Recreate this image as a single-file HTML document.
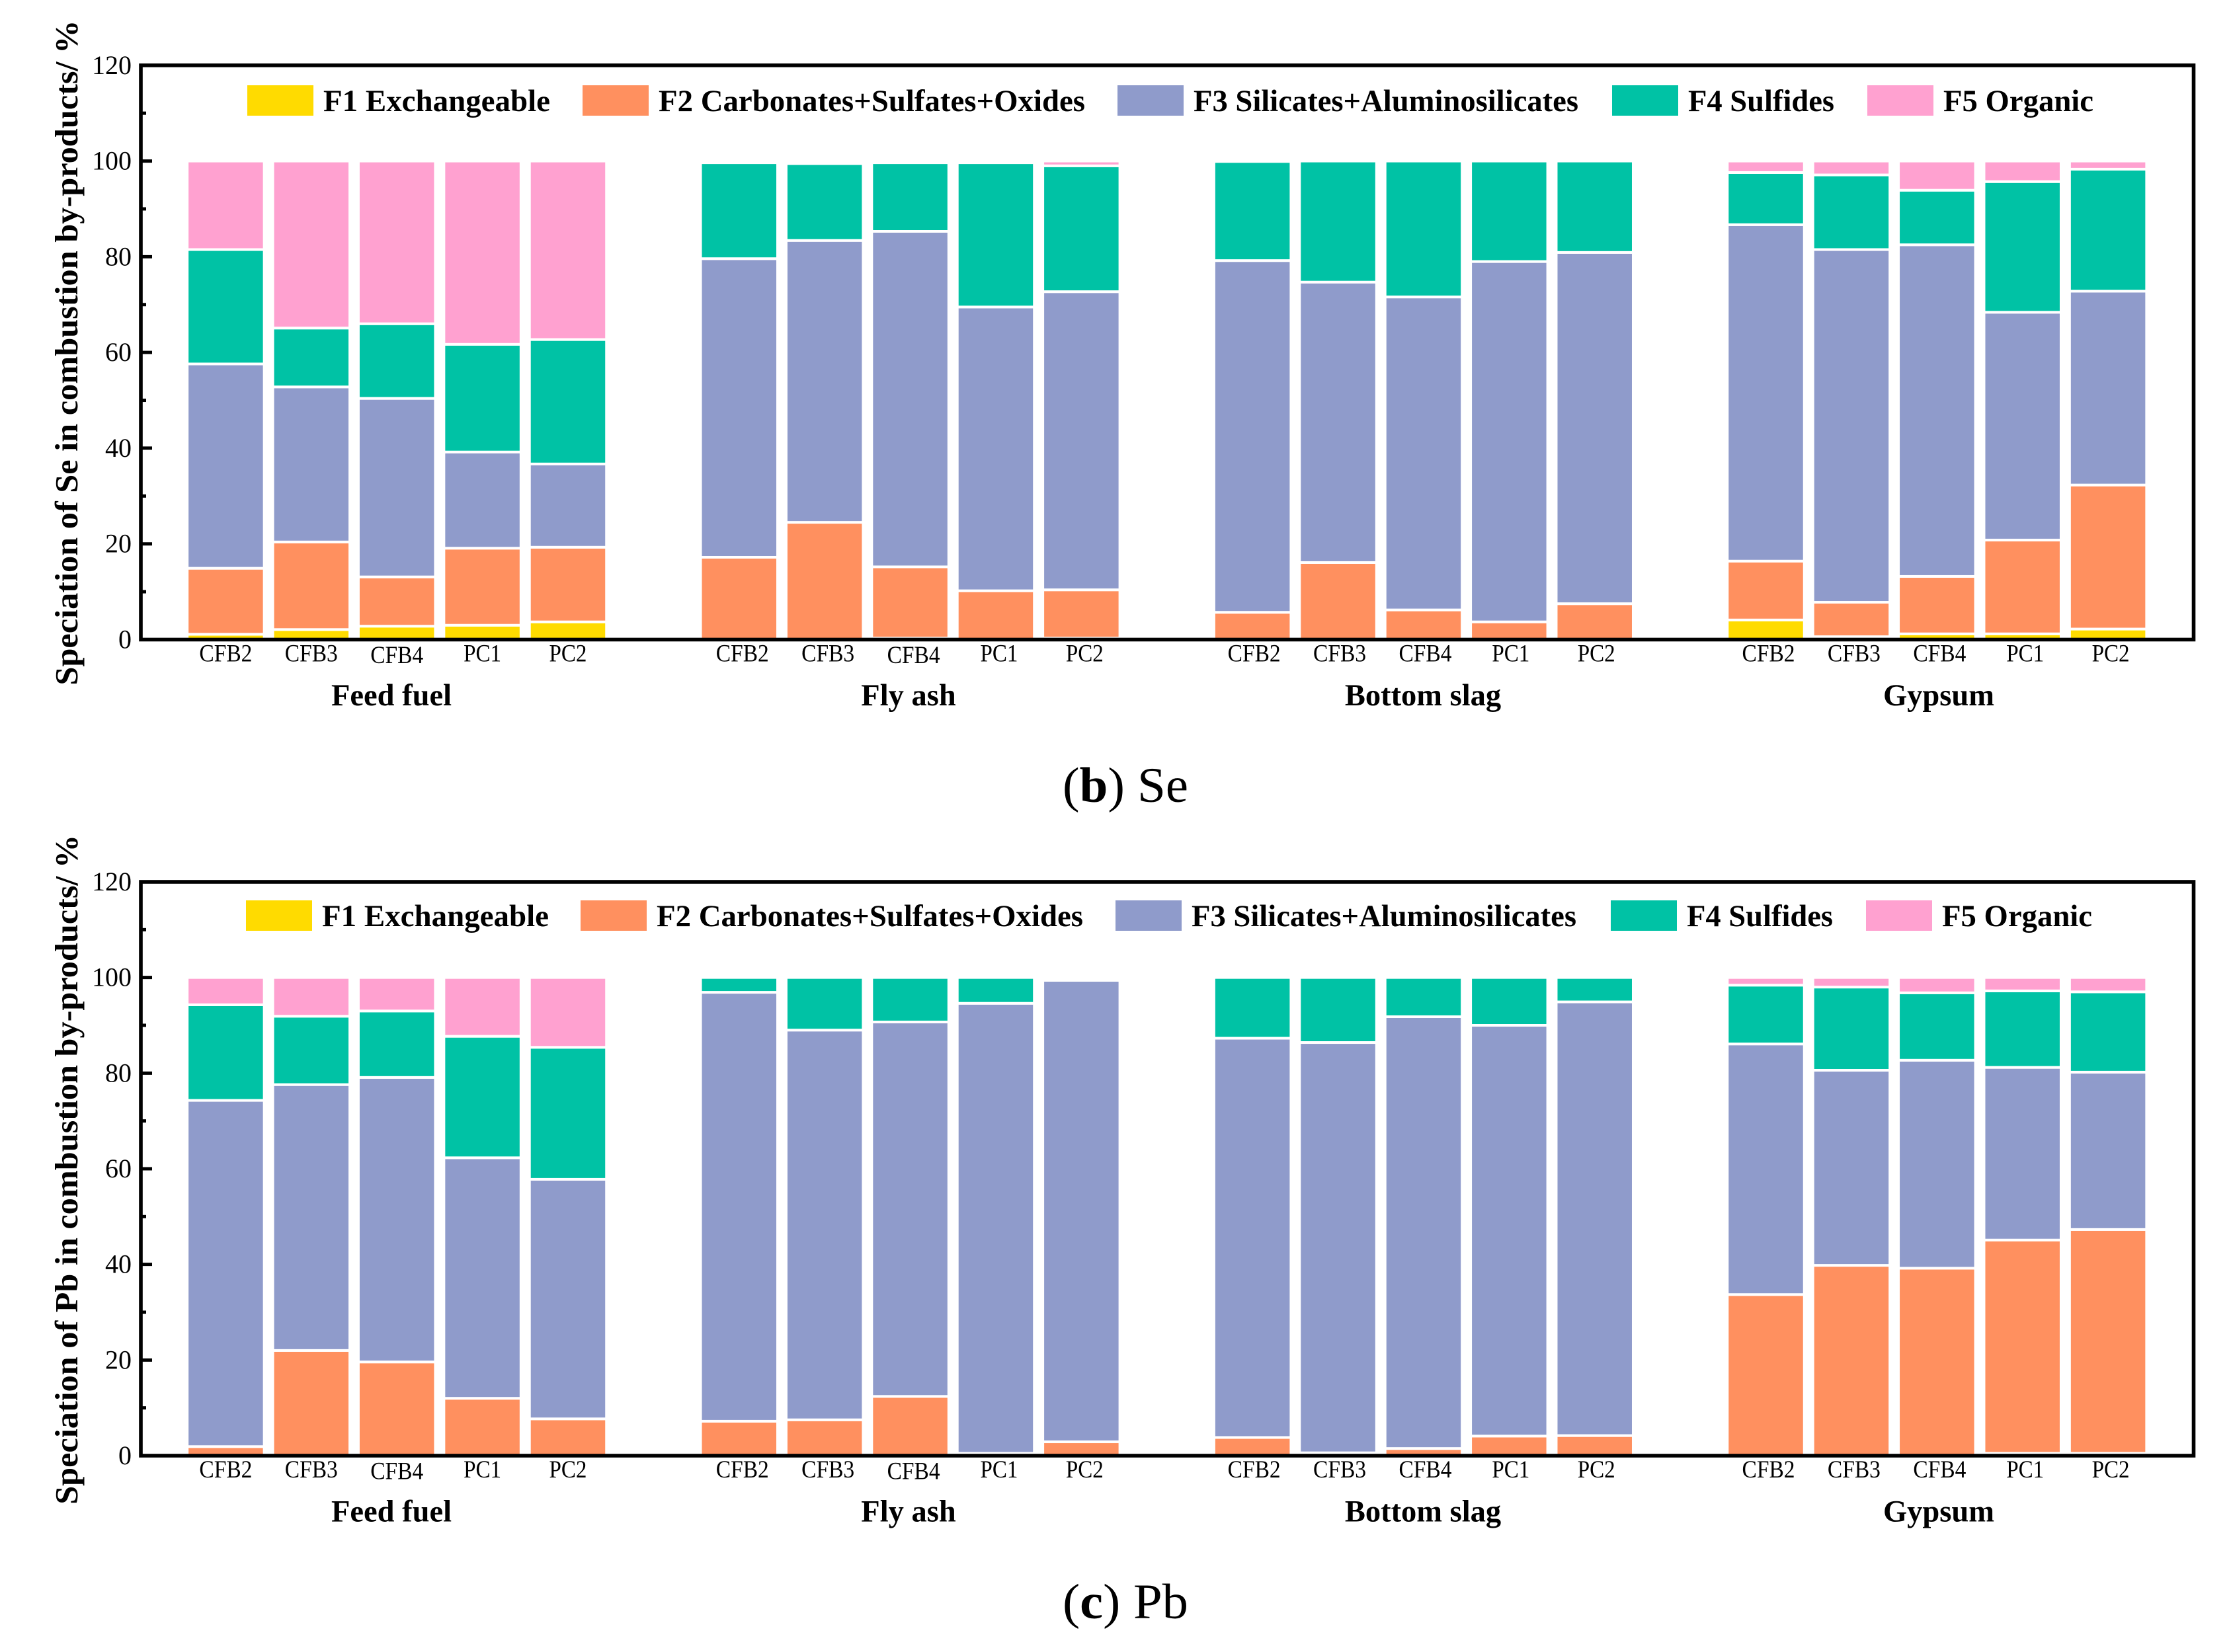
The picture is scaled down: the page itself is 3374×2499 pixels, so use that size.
<!DOCTYPE html>
<html lang="en">
<head>
<meta charset="utf-8">
<title>Speciation of Se and Pb in combustion by-products</title>
<style>
html,body{margin:0;padding:0;background:#fff;}
svg{display:block;}
text{font-family:"Liberation Serif",serif;fill:#000;}
</style>
</head>
<body>
<svg id="figure" xmlns="http://www.w3.org/2000/svg" width="3374" height="2499" viewBox="0 0 3374 2499">
<rect x="0" y="0" width="3374" height="2499" fill="#ffffff"/>
</svg>
<script>
// Categories and tick labels
const groupNames = ["Feed fuel", "Fly ash", "Bottom slag", "Gypsum"];
const siteNames = ["CFB2", "CFB3", "CFB4", "PC1", "PC2"];
const seriesNames = ["F1 Exchangeable", "F2 Carbonates+Sulfates+Oxides", "F3 Silicates+Aluminosilicates", "F4 Sulfides", "F5 Organic"];
const seriesColors = ["#ffdb00", "#ff905f", "#8f9bcb", "#00c2a5", "#ffa1d0"];
const majorTicks = [0, 20, 40, 60, 80, 100, 120];
const minorTicks = [10, 30, 50, 70, 90, 110];

// Se values: Feed fuel x5, Fly ash x5, Bottom slag x5, Gypsum x5
const seF1 = [1.1, 2.1, 2.8, 3.0, 3.7,   0, 0, 0.3, 0, 0.3,   0, 0, 0, 0, 0,   4.1, 0.6, 1.2, 1.2, 2.2];
const seF2 = [13.8, 18.3, 10.3, 16.1, 15.6,   17.2, 24.5, 14.9, 10.2, 10.1,   5.7, 16.1, 6.2, 3.7, 7.5,   12.3, 7.2, 12.0, 19.6, 30.1];
const seF3 = [42.7, 32.4, 37.3, 20.1, 17.4,   62.4, 58.9, 70.1, 59.3, 62.3,   73.5, 58.6, 65.4, 75.3, 73.4,   70.3, 73.7, 69.3, 47.6, 40.5];
const seF4 = [23.9, 12.3, 15.6, 22.5, 26.0,   20.05, 16.05, 14.35, 30.15, 26.3,   20.7, 25.3, 28.4, 21.0, 19.1,   10.9, 15.6, 11.4, 27.3, 25.5];
const seF5 = [18.5, 34.9, 34.0, 38.3, 37.3,   0, 0, 0, 0, 1.0,   0, 0, 0, 0, 0,   2.4, 2.9, 6.1, 4.3, 1.7];

// Pb values: same ordering
const pbF1 = [0, 0, 0, 0, 0,   0, 0, 0, 0, 0,   0, 0, 0, 0, 0,   0, 0, 0, 0.5, 0.5];
const pbF2 = [1.9, 22.0, 19.6, 12.0, 7.7,   7.2, 7.5, 12.4, 0.5, 2.9,   3.8, 0.6, 1.5, 4.1, 4.2,   33.7, 39.8, 39.2, 44.6, 46.8];
const pbF3 = [72.4, 55.6, 59.5, 50.3, 50.1,   89.7, 81.5, 78.3, 94.1, 96.5,   83.5, 85.8, 90.3, 85.9, 90.7,   52.4, 40.8, 43.5, 36.1, 32.9];
const pbF4 = [20.0, 14.3, 13.9, 25.4, 27.6,   3.1, 11.0, 9.3, 5.4, 0,   12.7, 13.6, 8.2, 10.0, 5.1,   12.3, 17.4, 14.1, 16.0, 16.8];
const pbF5 = [5.7, 8.1, 7.0, 12.3, 14.6,   0, 0, 0, 0, 0,   0, 0, 0, 0, 0,   1.6, 2.0, 3.2, 2.8, 3.0];

const NS = "http://www.w3.org/2000/svg";
const figure = document.getElementById("figure");

function mk(tag, parent, attrs) {
  const el = document.createElementNS(NS, tag);
  for (const k in attrs) el.setAttribute(k, attrs[k]);
  parent.appendChild(el);
  return el;
}

const X_LEFT = 212;
const X_RIGHT = 3317.5;
const xScale = function (i) { return X_LEFT + (i + 1) * (X_RIGHT - X_LEFT) / 24; };
const BAR_W = 116.5;

function drawPanel(cfg) {
  const yScale = function (v) { return cfg.y0 - (v / 120) * (cfg.y0 - cfg.y120); };

  const panel = mk("g", figure, {});
  
  

  // Stacked bars
  groupNames.forEach(function (gName, g) {
    siteNames.forEach(function (site, s) {
      const idx = g * 5 + s;
      const cx = xScale(g * 6 + s);
      let cum = 0;
      cfg.series.forEach(function (vals, k) {
        const v = vals[idx];
        if (v > 0) {
          const r = mk("rect", panel, {
            x: cx - BAR_W / 2,
            y: yScale(cum + v),
            width: BAR_W,
            height: yScale(cum) - yScale(cum + v),
            fill: seriesColors[k],
            stroke: "#ffffff",
            "stroke-width": 4
          });
          
          
        }
        cum += v;
      });
    });
  });

  // Axes frame
  const frame = mk("rect", panel, {
    x: X_LEFT + 1,
    y: yScale(120),
    width: X_RIGHT - X_LEFT - 1,
    height: cfg.y0 - yScale(120),
    fill: "none",
    stroke: "#000",
    "stroke-width": 5.6
  });
  
  

  // Y ticks
  majorTicks.forEach(function (t) {
    const tick = mk("line", panel, { x1: X_LEFT, x2: 230, y1: yScale(t), y2: yScale(t), stroke: "#000", "stroke-width": 5 });
    
    
    const lab = mk("text", panel, { x: 199, y: yScale(t) + 13, "text-anchor": "end", "font-size": 40 });
    lab.textContent = String(t);
    
    
  });
  minorTicks.forEach(function (t) {
    const tick = mk("line", panel, { x1: X_LEFT, x2: 221, y1: yScale(t), y2: yScale(t), stroke: "#000", "stroke-width": 5 });
    
    
  });

  // Y axis title
  const yt = mk("text", panel, {
    transform: "translate(117 " + cfg.titleStart + ") rotate(-90)",
    "font-size": 49,
    "font-weight": "bold",
    textLength: cfg.titleLen,
    lengthAdjust: "spacingAndGlyphs"
  });
  yt.textContent = "Speciation of " + cfg.element + " in combustion by-products/ %";
  
  

  // X category labels and group labels
  const groupNudge = [0, 5, 2.5, 4];
  const groupCentres = [592, 1374, 2152, 2932];
  groupNames.forEach(function (gName, g) {
    siteNames.forEach(function (site, s) {
      const isCfb = site.indexOf("CFB") === 0;
      const lowered = (s === 2 && g < 2) ? 2.5 : 0;
      const lab = mk("text", panel, {
        x: xScale(g * 6 + s) + groupNudge[g],
        y: cfg.y0 + 33 + lowered,
        "text-anchor": "middle",
        "font-size": 37,
        textLength: isCfb ? 80 : 57,
        lengthAdjust: "spacingAndGlyphs"
      });
      lab.textContent = site;
      
      
    });
    const gl = mk("text", panel, {
      x: groupCentres[g],
      y: cfg.y0 + 99.5,
      "text-anchor": "middle",
      "font-size": 46.5,
      "font-weight": "bold"
    });
    gl.textContent = gName;
    
    
  });

  // Legend
  const legend = mk("g", panel, {});
  
  
  seriesNames.forEach(function (name, k) {
    const sw = mk("rect", legend, {
      x: cfg.legendSwatchX[k],
      y: cfg.legendTop,
      width: 100,
      height: 46,
      fill: seriesColors[k]
    });
    
    
    const tx = mk("text", legend, {
      x: cfg.legendSwatchX[k] + 115,
      y: cfg.legendTop + 39,
      "font-size": 47,
      "font-weight": "bold",
      textLength: [343, 645, 582, 221, 227][k],
      lengthAdjust: "spacingAndGlyphs"
    });
    tx.textContent = name;
    
    
  });

  // Caption
  const cap = mk("text", panel, {
    x: 1607,
    y: cfg.captionY,
    "font-size": 75,
    textLength: 190,
    lengthAdjust: "spacingAndGlyphs"
  });
  const a = mk("tspan", cap, {});
  a.textContent = "(";
  const b = mk("tspan", cap, { "font-weight": "bold" });
  b.textContent = cfg.letter;
  const c = mk("tspan", cap, {});
  c.textContent = ") " + cfg.element;
  
  
}

drawPanel({
  key: "se",
  element: "Se",
  letter: "b",
  y0: 967.5,
  y120: 98.8,
  series: [seF1, seF2, seF3, seF4, seF5],
  titleStart: 1036.6,
  titleLen: 1006,
  legendTop: 129,
  legendSwatchX: [374, 881, 1690, 2438, 2824],
  captionY: 1213
});

drawPanel({
  key: "pb",
  element: "Pb",
  letter: "c",
  y0: 2202,
  y120: 1334,
  series: [pbF1, pbF2, pbF3, pbF4, pbF5],
  titleStart: 2275.8,
  titleLen: 1013,
  legendTop: 1362,
  legendSwatchX: [372, 878, 1687, 2436, 2822],
  captionY: 2448
});
</script>
</body>
</html>
